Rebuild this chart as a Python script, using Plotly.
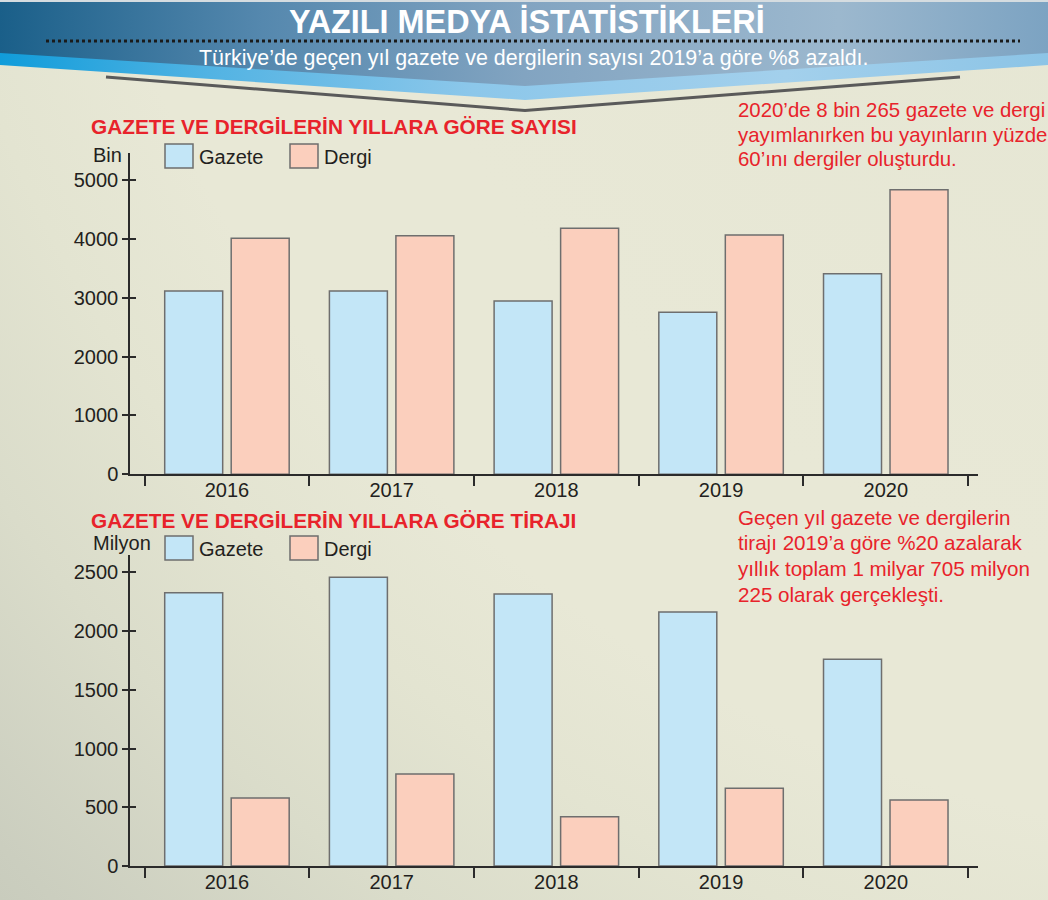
import plotly.graph_objects as go

# ---------------- data ----------------
years = ["2016", "2017", "2018", "2019", "2020"]
gazete_sayi = [3114, 3114, 2944, 2752, 3408]      # Bin
dergi_sayi = [4009, 4054, 4179, 4066, 4835]       # Bin
gazete_tiraj = [2326, 2457, 2315, 2162, 1759]     # Milyon
dergi_tiraj = [579, 783, 420, 661, 562]           # Milyon
series_names = ["Gazete", "Dergi"]
sayi_ticks = [0, 1000, 2000, 3000, 4000, 5000]
tiraj_ticks = [0, 500, 1000, 1500, 2000, 2500]

title_text = "YAZILI MEDYA İSTATİSTİKLERİ"
subtitle_text = "Türkiye’de geçen yıl gazete ve dergilerin sayısı 2019’a göre %8 azaldı."
chart1_title = "GAZETE VE DERGİLERİN YILLARA GÖRE SAYISI"
chart2_title = "GAZETE VE DERGİLERİN YILLARA GÖRE TİRAJI"
note1_lines = ["2020’de 8 bin 265 gazete ve dergi",
               "yayımlanırken bu yayınların yüzde",
               "60’ını dergiler oluşturdu."]
note2_lines = ["Geçen yıl gazete ve dergilerin",
               "tirajı 2019’a göre %20 azalarak",
               "yıllık toplam 1 milyar 705 milyon",
               "225 olarak gerçekleşti."]
unit1 = "Bin"
unit2 = "Milyon"

# ---------------- style ----------------
W, H = 1048, 900
FONT = "Liberation Sans, Arial, Helvetica, sans-serif"
RED = "#E8232B"
DARK = "#231F20"
AX = "#2B2B2B"
GAZ = "#C3E6F7"
DER = "#FBCFBD"
EDGE = "#6E6E6E"

fig = go.Figure()

# background (pixel-coordinate helper axes x/y); large polygon so that the
# radial gradient centre sits above the top-right corner
fig.add_trace(go.Scatter(
    x=[-700, 3300, 3300, -700, -700], y=[-2400, -2400, 1600, 1600, -2400],
    mode="none", fill="toself",
    fillgradient=dict(type="radial",
                      colorscale=[[0, "#E4E5D2"], [0.5, "#E8E8D6"], [0.62, "#E8E8D6"],
                                  [0.7, "#E3E4D1"], [0.79, "#DADCCA"], [0.9, "#CBCEBF"],
                                  [1, "#C0C4B5"]]),
    hoverinfo="skip", showlegend=False, xaxis="x", yaxis="y"))

# banner
fig.add_trace(go.Scatter(
    x=[0, W, W, 0, 0], y=[0, 0, 3, 3, 0], mode="none", fill="toself",
    fillcolor="#D5DCE0", hoverinfo="skip", showlegend=False, xaxis="x", yaxis="y"))
fig.add_trace(go.Scatter(
    x=[0, W, W, 525, 0, 0], y=[2, 2, 65, 100, 65, 2], mode="none", fill="toself",
    fillgradient=dict(type="horizontal",
                      colorscale=[[0, "#109CDA"], [0.2, "#52B3E3"], [0.45, "#8CC7EA"],
                                  [0.75, "#A3D0EC"], [1, "#8CC4E6"]]),
    hoverinfo="skip", showlegend=False, xaxis="x", yaxis="y"))
fig.add_trace(go.Scatter(
    x=[0, W, W, 525, 0, 0], y=[2, 2, 53, 86, 53, 2], mode="none", fill="toself",
    fillgradient=dict(type="horizontal",
                      colorscale=[[0, "#1A5F89"], [0.25, "#5588AE"], [0.5, "#82A4C1"],
                                  [0.8, "#9CB8CE"], [1, "#7CA3C2"]]),
    hoverinfo="skip", showlegend=False, xaxis="x", yaxis="y"))
fig.add_trace(go.Scatter(
    x=[106, 525, 960], y=[77, 110.5, 77], mode="lines",
    line=dict(color="#5A5A5A", width=3), hoverinfo="skip", showlegend=False,
    xaxis="x", yaxis="y"))
fig.add_trace(go.Scatter(
    x=[46, 1020], y=[41, 41], mode="lines",
    line=dict(color="#1A1A1A", width=3, dash="dot"), hoverinfo="skip",
    showlegend=False, xaxis="x", yaxis="y"))

# bars
for vals, name, col, xa, ya in [
    (gazete_sayi, series_names[0], GAZ, "x2", "y2"),
    (dergi_sayi, series_names[1], DER, "x2", "y2"),
    (gazete_tiraj, series_names[0], GAZ, "x3", "y3"),
    (dergi_tiraj, series_names[1], DER, "x3", "y3"),
]:
    fig.add_trace(go.Bar(
        x=years, y=vals, name=name, xaxis=xa, yaxis=ya,
        marker=dict(color=col, line=dict(color=EDGE, width=1.5)),
        hoverinfo="skip", showlegend=False))

# empty helper traces so the overlay axes (inner half of the y ticks) are drawn
for xa, ya in [("x2", "y4"), ("x3", "y5")]:
    fig.add_trace(go.Scatter(x=[None], y=[None], mode="markers", xaxis=xa, yaxis=ya,
                             hoverinfo="skip", showlegend=False))

tickfont = dict(family=FONT, size=20, color=DARK)


def xcat(domain, anchor):
    return dict(domain=domain, anchor=anchor, type="category",
                range=[-0.5886, 4.56], showline=True, linecolor=AX, linewidth=1.5,
                ticks="outside", tickson="boundaries", ticklen=10, tickwidth=1.5,
                tickcolor=AX, tickfont=tickfont, showgrid=False, zeroline=False,
                fixedrange=True, ticklabelstandoff=-3, automargin=False)


def yval(domain, anchor, rng, tv, inside=False, overlay=None):
    d = dict(domain=domain, anchor=anchor, range=rng, tickvals=tv,
             showline=not inside, linecolor=AX, linewidth=1.5,
             ticks="inside" if inside else "outside",
             ticklen=6, tickwidth=1.5, tickcolor=AX, tickfont=tickfont,
             showticklabels=not inside,
             showgrid=False, zeroline=False, fixedrange=True, automargin=False)
    if overlay:
        d["overlaying"] = overlay
    return d


xd = [130 / W, 978 / W]
yd2 = [1 - 474.3 / H, 1 - 153 / H]
yd3 = [1 - 866 / H, 1 - 555 / H]

annotations = [
    dict(x=527, y=22, text="<b>" + title_text + "</b>", showarrow=False,
         font=dict(family=FONT, size=32.4, color="white"), xanchor="center", yanchor="middle"),
    dict(x=533, y=58, text=subtitle_text, showarrow=False,
         font=dict(family=FONT, size=21.4, color="white"), xanchor="center", yanchor="middle"),
    dict(x=89, y=126, text="<b>" + chart1_title + "</b>", showarrow=False,
         font=dict(family=FONT, size=20.8, color=RED), xanchor="left", yanchor="middle"),
    dict(x=89, y=520, text="<b>" + chart2_title + "</b>", showarrow=False,
         font=dict(family=FONT, size=20.8, color=RED), xanchor="left", yanchor="middle"),
    dict(x=124, y=155, text=unit1, showarrow=False,
         font=dict(family=FONT, size=20, color=DARK), xanchor="right", yanchor="middle"),
    dict(x=122, y=543, text=unit2, showarrow=False,
         font=dict(family=FONT, size=20, color=DARK), xanchor="center", yanchor="middle"),
]
for i, line in enumerate(note1_lines):
    annotations.append(dict(x=736, y=110 + 24.5 * i, text=line, showarrow=False,
                            font=dict(family=FONT, size=20.4, color=RED),
                            xanchor="left", yanchor="middle"))
for i, line in enumerate(note2_lines):
    annotations.append(dict(x=736, y=517 + 25.7 * i, text=line, showarrow=False,
                            font=dict(family=FONT, size=20.6, color=RED),
                            xanchor="left", yanchor="middle"))

shapes = []
for y0 in (144, 536):
    for x0, name, col in [(165, series_names[0], GAZ), (290, series_names[1], DER)]:
        shapes.append(dict(type="rect", xref="x", yref="y", x0=x0, x1=x0 + 28,
                           y0=y0, y1=y0 + 24, fillcolor=col,
                           line=dict(color=EDGE, width=1.5)))
        annotations.append(dict(x=x0 + 32, y=y0 + 12.5, text=name, showarrow=False,
                                font=dict(family=FONT, size=20, color=DARK),
                                xanchor="left", yanchor="middle"))

fig.update_layout(
    width=W, height=H, margin=dict(l=0, r=0, t=0, b=0, autoexpand=False),
    paper_bgcolor="#E6E6D3", plot_bgcolor="rgba(0,0,0,0)",
    barmode="group", bargap=0.1925, bargroupgap=0.128,
    showlegend=False, hovermode=False,
    xaxis=dict(domain=[0, 1], range=[0, W], visible=False, fixedrange=True, automargin=False),
    yaxis=dict(domain=[0, 1], range=[H, 0], visible=False, fixedrange=True, automargin=False),
    xaxis2=xcat(xd, "y2"),
    yaxis2=yval(yd2, "x2", [0, 5459], sayi_ticks),
    yaxis4=yval(yd2, "x2", [0, 5459], sayi_ticks, inside=True, overlay="y2"),
    xaxis3=xcat(xd, "y3"),
    yaxis3=yval(yd3, "x3", [0, 2647], tiraj_ticks),
    yaxis5=yval(yd3, "x3", [0, 2647], tiraj_ticks, inside=True, overlay="y3"),
    annotations=annotations, shapes=shapes,
)

fig.write_html("out.html", config={"displayModeBar": False},
               post_script="document.body.style.margin='0px';")
